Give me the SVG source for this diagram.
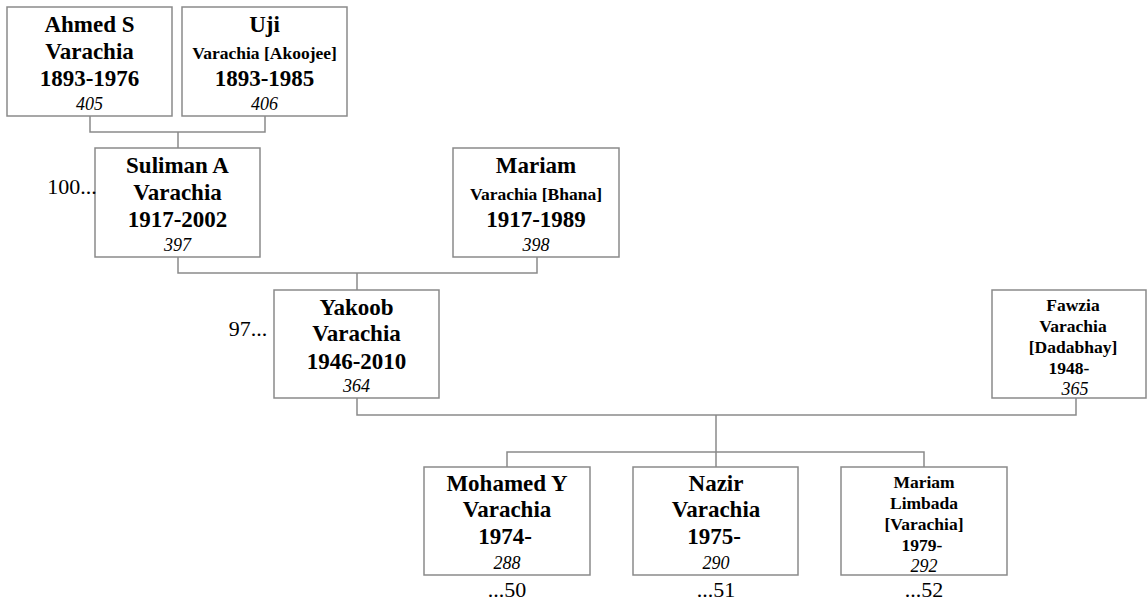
<svg xmlns="http://www.w3.org/2000/svg" width="1147" height="602" viewBox="0 0 1147 602">
<style>
.box{fill:#fff;stroke:#8a8a8a;stroke-width:1.5}
.con{fill:none;stroke:#8a8a8a;stroke-width:1.5}
text{font-family:"Liberation Serif","Times New Roman",serif;fill:#000;text-anchor:middle}
.n{font-size:23px;font-weight:bold}
.s{font-size:17.5px;font-weight:bold}
.id{font-size:18px;font-style:italic}
.ids{font-size:18px;font-style:italic}
.r{font-size:22px}
</style>
<rect width="1147" height="602" fill="#fff"/>
<g id="connectors">
<path class="con" d="M90 116V132H265V116M178 132V148"/>
<path class="con" d="M178 257V273H537V257M357 273V290"/>
<path class="con" d="M357 398V415H1076V398M716 415V467M507 467V452H924V467"/>
</g>
<g id="ahmed">
<rect class="box" x="7" y="7" width="165" height="109"/>
<text class="n" x="89.5" y="32">Ahmed S</text>
<text class="n" x="89.5" y="59">Varachia</text>
<text class="n" x="89.5" y="86">1893-1976</text>
<text class="id" x="89.5" y="110">405</text>
</g>
<g id="uji">
<rect class="box" x="182" y="7" width="165" height="109"/>
<text class="n" x="264.5" y="32">Uji</text>
<text class="s" x="264.5" y="59">Varachia [Akoojee]</text>
<text class="n" x="264.5" y="86">1893-1985</text>
<text class="id" x="264.5" y="110">406</text>
</g>
<g id="suliman">
<rect class="box" x="95" y="148" width="165" height="109"/>
<text class="n" x="177.5" y="173">Suliman A</text>
<text class="n" x="177.5" y="200">Varachia</text>
<text class="n" x="177.5" y="227">1917-2002</text>
<text class="id" x="177.5" y="251">397</text>
<text class="r" x="72" y="194">100...</text>
</g>
<g id="mariam">
<rect class="box" x="453" y="148" width="166" height="109"/>
<text class="n" x="536" y="173">Mariam</text>
<text class="s" x="536" y="200">Varachia [Bhana]</text>
<text class="n" x="536" y="227">1917-1989</text>
<text class="id" x="536" y="251">398</text>
</g>
<g id="yakoob">
<rect class="box" x="274" y="290" width="165" height="108"/>
<text class="n" x="356.5" y="315">Yakoob</text>
<text class="n" x="356.5" y="341">Varachia</text>
<text class="n" x="356.5" y="369">1946-2010</text>
<text class="id" x="356.5" y="392">364</text>
<text class="r" x="248" y="336">97...</text>
</g>
<g id="fawzia">
<rect class="box" x="992" y="290" width="154" height="108"/>
<text class="s" x="1073" y="311">Fawzia</text>
<text class="s" x="1073" y="332">Varachia</text>
<text class="s" x="1073" y="353">[Dadabhay]</text>
<text class="s" x="1069" y="374">1948-</text>
<text class="ids" x="1075" y="395">365</text>
</g>
<g id="mohamed">
<rect class="box" x="424" y="467" width="166" height="108"/>
<text class="n" x="507" y="491">Mohamed Y</text>
<text class="n" x="507" y="517">Varachia</text>
<text class="n" x="505" y="544">1974-</text>
<text class="id" x="507" y="569">288</text>
<text class="r" x="507" y="597">...50</text>
</g>
<g id="nazir">
<rect class="box" x="633" y="467" width="165" height="108"/>
<text class="n" x="716" y="491">Nazir</text>
<text class="n" x="716" y="517">Varachia</text>
<text class="n" x="714" y="544">1975-</text>
<text class="id" x="716" y="569">290</text>
<text class="r" x="716" y="597">...51</text>
</g>
<g id="mariamL">
<rect class="box" x="841" y="467" width="166" height="108"/>
<text class="s" x="924" y="488">Mariam</text>
<text class="s" x="924" y="509">Limbada</text>
<text class="s" x="924" y="530">[Varachia]</text>
<text class="s" x="922" y="551">1979-</text>
<text class="ids" x="924" y="572">292</text>
<text class="r" x="924" y="597">...52</text>
</g>
</svg>
